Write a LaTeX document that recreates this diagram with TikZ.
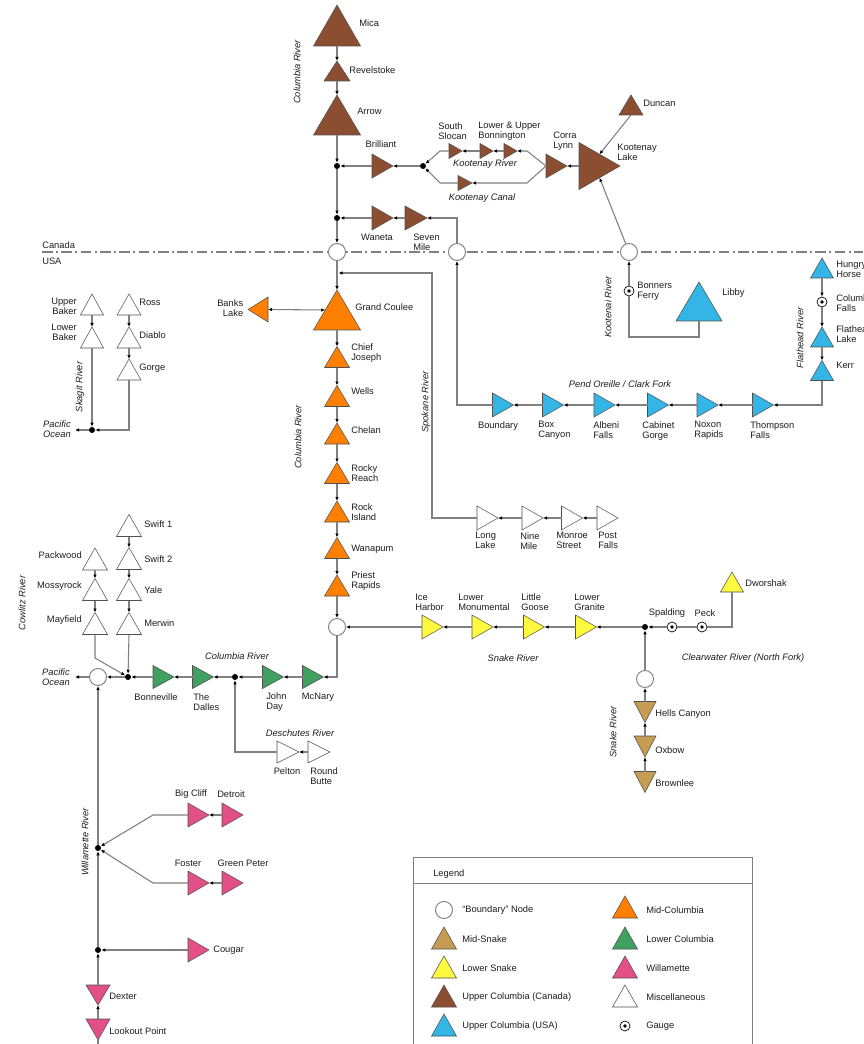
\documentclass[tikz,border=0pt]{standalone}
\usepackage{fontspec}
\setmainfont{Liberation Sans}
\usetikzlibrary{arrows.meta,calc}
\definecolor{cbrown}{RGB}{140,78,48}
\definecolor{cblue}{RGB}{51,181,229}
\definecolor{corange}{RGB}{255,128,0}
\definecolor{cgreen}{RGB}{64,160,96}
\definecolor{cyellow}{RGB}{255,250,64}
\definecolor{ctan}{RGB}{198,155,82}
\definecolor{cpink}{RGB}{226,80,135}
\definecolor{linegray}{RGB}{128,128,128}
\definecolor{edgegray}{RGB}{80,80,80}
\definecolor{txt}{RGB}{30,30,30}
\newcommand\lf{\fontsize{7}{7.6}\selectfont}
\tikzset{
  ln/.style={draw=linegray, line width=0.8pt},
  arr/.style={ln, -{Latex[length=3pt,width=2.6pt,color=black]}},
  darr/.style={ln, {Latex[length=3pt,width=2.6pt,color=black]}-{Latex[length=3pt,width=2.6pt,color=black]}},
  tri/.style={draw=edgegray, line width=0.4pt},
  bnode/.style={circle, draw=linegray, line width=0.7pt, fill=white, minimum size=12.75pt, inner sep=0pt},
  jdot/.style={circle, fill=black, minimum size=4.5pt, inner sep=0pt},
  gauge/.style={circle, draw=black, line width=0.5pt, fill=white, minimum size=7.5pt, inner sep=0pt,
    path picture={\fill[black] (path picture bounding box.center) circle (1.4pt);}},
  lbl/.style={font=\lf, text=txt, inner sep=0pt, align=left},
  rlbl/.style={lbl, align=right},
  clbl/.style={lbl, align=center},
  riv/.style={font=\lf\itshape, text=txt, inner sep=0pt, align=center},
  rivr/.style={riv, align=right},
  border/.style={draw=linegray, line width=0.8pt, dash pattern=on 8pt off 2.5pt on 1.5pt off 2.5pt},
  legbox/.style={draw=linegray, line width=0.7pt},
}
\newcommand\damU[2]{\filldraw[tri, fill=#2] (#1.north) -- (#1.south west) -- (#1.south east) -- cycle;}
\newcommand\damR[2]{\filldraw[tri, fill=#2] (#1.east) -- (#1.north west) -- (#1.south west) -- cycle;}
\newcommand\damD[2]{\filldraw[tri, fill=#2] (#1.south) -- (#1.north west) -- (#1.north east) -- cycle;}
\newcommand\damL[2]{\filldraw[tri, fill=#2] (#1.west) -- (#1.north east) -- (#1.south east) -- cycle;}
\newcommand\dam[7]{%
  \node[inner sep=0pt, outer sep=0pt, minimum width=#4*0.75pt, minimum height=#5*0.75pt] (#1) at (#2,#3) {};
  \csname dam#6\endcsname{#1}{#7}}
\begin{document}
\begin{tikzpicture}[x=0.75pt,y=-0.75pt]
\useasboundingbox (0,0) rectangle (863,1044);
\fill[white] (0,0) rectangle (863,1044);

% ---------- border line ----------
\coordinate (bl0) at (42,252);
\coordinate (bl1) at (863,252);
\draw[border] (bl0) -- (bl1);
\node[lbl, anchor=west] (tcan) at (42,245) {Canada};
\node[lbl, anchor=west] (tusa) at (42,261) {USA};

% ---------- boundary nodes, junctions, gauges ----------
\node[bnode] (bcol) at (337,252) {};
\node[bnode] (bpend) at (457,252) {};
\node[bnode] (bkoot) at (629,252) {};
\node[bnode] (bsnake) at (337,627) {};
\node[bnode] (bsnup) at (645,679) {};
\node[bnode] (bpac) at (98,677) {};
\node[jdot] (j1) at (337,166) {};
\node[jdot] (j2) at (337,218) {};
\node[jdot] (jk) at (423,166) {};
\node[jdot] (jsk) at (92,430) {};
\node[jdot] (jsn) at (645,627) {};
\node[jdot] (jdes) at (235,677) {};
\node[jdot] (jcow) at (128,677) {};
\node[jdot] (jw1) at (98,848) {};
\node[jdot] (jw2) at (98,950) {};
\node[gauge] (bferry) at (629,291) {};
\node[gauge] (cfalls) at (822,302) {};
\node[gauge] (spald) at (672,627) {};
\node[gauge] (peck) at (702,627) {};

% ---------- Upper Columbia (Canada) ----------
\dam{mica}{337}{25.5}{47}{41}{U}{cbrown}
\dam{rev}{337}{71}{26}{20}{U}{cbrown}
\dam{arrow}{337}{115}{47}{40}{U}{cbrown}
\dam{bril}{382.5}{166}{21}{24}{R}{cbrown}
\dam{waneta}{382.5}{218}{21}{24}{R}{cbrown}
\dam{seven}{416}{218}{22}{24}{R}{cbrown}
\dam{sslocan}{455.5}{151}{13}{15}{R}{cbrown}
\dam{lbon}{486.5}{151}{13}{15}{R}{cbrown}
\dam{ubon}{510.5}{151}{13}{15}{R}{cbrown}
\dam{kcanal}{465}{183}{14}{15}{R}{cbrown}
\dam{corra}{556.5}{166}{21}{24}{R}{cbrown}
\dam{klake}{599.5}{166}{41}{47}{R}{cbrown}
\dam{duncan}{631}{105}{24}{20}{U}{cbrown}

\node[lbl, anchor=west] (tmica) at (359,23) {Mica};
\node[lbl, anchor=west] (trev) at (349,70) {Revelstoke};
\node[lbl, anchor=west] (tarrow) at (357,111) {Arrow};
\node[clbl] (tbril) at (381,144) {Brilliant};
\node[clbl] (twaneta) at (377,237) {Waneta};
\node[lbl, anchor=west] (tseven) at (413,242) {Seven\\Mile};
\node[lbl, anchor=west] (tsslocan) at (438,131) {South\\Slocan};
\node[lbl, anchor=west] (tbon) at (478,131.5) {Lower \& Upper\\Bonnington};
\node[lbl, anchor=west] (tcorra) at (553,141) {Corra\\Lynn};
\node[lbl, anchor=west] (tklake) at (617,152.5) {Kootenay\\Lake};
\node[lbl, anchor=west] (tduncan) at (643,103) {Duncan};
\node[riv] (rkr) at (485,164) {Kootenay River};
\node[riv] (rkc) at (482,198) {Kootenay Canal};
\node[riv, rotate=90] (rcol1) at (297,72) {Columbia River};

\coordinate (kr0) at (440,151);
\coordinate (kr1) at (527,151);
\coordinate (kc0) at (440,183);
\coordinate (kc1) at (527,183);
\coordinate (klup) at ($(klake.north west)!0.5!(klake.east)$);
\coordinate (kldn) at ($(klake.south west)!0.5!(klake.east)$);

\draw[arr] (mica.south) -- (rev.north);
\draw[arr] (rev.south) -- (arrow.north);
\draw[arr] (arrow.south) -- (j1);
\draw[arr] (j1) -- (j2);
\draw[arr] (j2) -- (bcol);
\draw[arr] (bril.west) -- (j1);
\draw[arr] (jk) -- (bril.east);
\draw[arr] (corra.west) -- (kr1) -- (ubon.east);
\draw[arr] (ubon.west) -- (lbon.east);
\draw[arr] (lbon.west) -- (sslocan.east);
\draw[arr] (sslocan.west) -- (kr0) -- (jk);
\draw[arr] (corra.west) -- (kc1) -- (kcanal.east);
\draw[arr] (kcanal.west) -- (kc0) -- (jk);
\draw[arr] (klake.west) -- (corra.east);
\draw[arr] (duncan.south) -- (klup);
\draw[arr] (bkoot) -- (kldn);
\draw[arr] (seven.west) -- (waneta.east);
\draw[arr] (waneta.west) -- (j2);
\draw[arr] (bpend.north) |- (seven.east);

% ---------- Upper Columbia (USA) ----------
\dam{libby}{699}{301.5}{46}{39}{U}{cblue}
\dam{hhorse}{822}{268}{23}{20}{U}{cblue}
\dam{flake}{822}{337}{23}{20}{U}{cblue}
\dam{kerr}{822}{370.5}{23}{20}{U}{cblue}
\dam{thompson}{763}{405}{21}{24}{R}{cblue}
\dam{noxon}{707.5}{405}{21}{24}{R}{cblue}
\dam{cabinet}{658}{405}{21}{24}{R}{cblue}
\dam{albeni}{604.5}{405}{21}{24}{R}{cblue}
\dam{boxc}{553}{405}{21}{24}{R}{cblue}
\dam{bdy}{503}{405}{21}{24}{R}{cblue}

\node[lbl, anchor=west] (tbferry) at (637,291) {Bonners\\Ferry};
\node[lbl, anchor=west] (tlibby) at (722,293) {Libby};
\node[lbl, anchor=west] (thh) at (836,269.5) {Hungry\\Horse};
\node[lbl, anchor=west] (tcf) at (836,303) {Columbia\\Falls};
\node[lbl, anchor=west] (tfl) at (836,334) {Flathead\\Lake};
\node[lbl, anchor=west] (tkerr) at (836,365) {Kerr};
\node[riv, rotate=90] (rkoot) at (608,307) {Kootenai River};
\node[riv, rotate=90] (rflat) at (800,338) {Flathead River};
\node[riv] (rpend) at (620,384) {Pend Oreille / Clark Fork};
\node[lbl, anchor=north] (tbdy) at (498,421) {Boundary};
\node[lbl, anchor=north west] (tboxc) at (538,421) {Box\\Canyon};
\node[lbl, anchor=north west] (talbeni) at (593,421) {Albeni\\Falls};
\node[lbl, anchor=north west] (tcabinet) at (642,421) {Cabinet\\Gorge};
\node[lbl, anchor=north west] (tnoxon) at (694,421) {Noxon\\Rapids};
\node[lbl, anchor=north west] (tthompson) at (750,421) {Thompson\\Falls};

\coordinate (kt1) at (629,337);
\draw[arr] (bferry) -- (bkoot);
\draw[ln] (libby.south) |- (kt1) -- (bferry.south);
\draw[arr] (hhorse.south) -- (cfalls);
\draw[arr] (cfalls) -- (flake.north);
\draw[arr] (flake.south) -- (kerr.north);
\draw[arr] (kerr.south) |- (thompson.east);
\draw[arr] (thompson.west) -- (noxon.east);
\draw[arr] (noxon.west) -- (cabinet.east);
\draw[arr] (cabinet.west) -- (albeni.east);
\draw[arr] (albeni.west) -- (boxc.east);
\draw[arr] (boxc.west) -- (bdy.east);
\draw[arr] (bdy.west) -| (bpend.south);

% ---------- Mid-Columbia ----------
\dam{gc}{337}{310}{47}{40}{U}{corange}
\dam{banks}{258}{309.5}{20}{25}{L}{corange}
\dam{cj}{337}{357}{25}{21}{U}{corange}
\dam{wells}{337}{396}{25}{21}{U}{corange}
\dam{chelan}{337}{433.5}{25}{21}{U}{corange}
\dam{rocky}{337}{473}{25}{21}{U}{corange}
\dam{rockis}{337}{511.5}{25}{21}{U}{corange}
\dam{wanapum}{337}{548}{25}{21}{U}{corange}
\dam{priest}{337}{585.5}{25}{21}{U}{corange}

\node[lbl, anchor=west] (tgc) at (355,307) {Grand Coulee};
\node[rlbl, anchor=west] (tbanks) at (217,308) {Banks\\Lake};
\node[lbl, anchor=west] (tcj) at (351,353) {Chief\\Joseph};
\node[lbl, anchor=west] (twells) at (351,391) {Wells};
\node[lbl, anchor=west] (tchelan) at (351,430) {Chelan};
\node[lbl, anchor=west] (trocky) at (351,473) {Rocky\\Reach};
\node[lbl, anchor=west] (trockis) at (351,512) {Rock\\Island};
\node[lbl, anchor=west] (twanapum) at (351,549) {Wanapum};
\node[lbl, anchor=west] (tpriest) at (351,581.5) {Priest\\Rapids};
\node[riv, rotate=90] (rcol2) at (298,437) {Columbia River};

\coordinate (gcl) at ($(gc.north)!0.5!(gc.south west)$);
\draw[arr] (bcol) -- (gc.north);
\draw[darr] (banks.east) -- (gcl);
\draw[arr] (gc.south) -- (cj.north);
\draw[arr] (cj.south) -- (wells.north);
\draw[arr] (wells.south) -- (chelan.north);
\draw[arr] (chelan.south) -- (rocky.north);
\draw[arr] (rocky.south) -- (rockis.north);
\draw[arr] (rockis.south) -- (wanapum.north);
\draw[arr] (wanapum.south) -- (priest.north);
\draw[arr] (priest.south) -- (bsnake);

% ---------- Spokane ----------
\dam{longlake}{487.5}{518}{21}{24}{R}{white}
\dam{ninemile}{532.5}{518}{21}{24}{R}{white}
\dam{monroe}{572}{518}{21}{24}{R}{white}
\dam{postf}{607.5}{518}{21}{24}{R}{white}
\node[lbl, anchor=north west] (tlong) at (475,532) {Long\\Lake};
\node[lbl, anchor=north west] (tnine) at (520,532) {Nine\\Mile};
\node[lbl, anchor=north west] (tmonroe) at (556,532) {Monroe\\Street};
\node[lbl, anchor=north west] (tpost) at (598,532) {Post\\Falls};
\node[riv, rotate=90] (rspok) at (426,402) {Spokane River};
\coordinate (sp1) at (432,273);
\coordinate (sp2) at (338.5,273);
\draw[arr] (longlake.west) -| (sp1) -- (sp2);
\draw[arr] (ninemile.west) -- (longlake.east);
\draw[arr] (monroe.west) -- (ninemile.east);
\draw[arr] (postf.west) -- (monroe.east);

% ---------- Skagit ----------
\dam{ubaker}{92}{304.5}{23}{21}{U}{white}
\dam{lbaker}{92}{337.5}{23}{21}{U}{white}
\dam{ross}{129}{304.5}{24}{21}{U}{white}
\dam{diablo}{129}{337.5}{24}{21}{U}{white}
\dam{gorge}{129}{369.5}{24}{21}{U}{white}
\node[rlbl, anchor=east] (tubaker) at (77,306.5) {Upper\\Baker};
\node[rlbl, anchor=east] (tlbaker) at (77,332) {Lower\\Baker};
\node[lbl, anchor=west] (tross) at (139,302) {Ross};
\node[lbl, anchor=west] (tdiablo) at (139,335) {Diablo};
\node[lbl, anchor=west] (tgorge) at (139,368) {Gorge};
\node[riv, rotate=90] (rskag) at (80,387) {Skagit River};
\node[rivr, anchor=east] (tpo1) at (71,429.5) {Pacific\\Ocean};
\coordinate (po1) at (75,430);
\draw[arr] (ubaker.south) -- (lbaker.north);
\draw[arr] (lbaker.south) -- (jsk);
\draw[arr] (ross.south) -- (diablo.north);
\draw[arr] (diablo.south) -- (gorge.north);
\draw[arr] (gorge.south) |- (jsk.east);
\draw[arr] (jsk) -- (po1);

% ---------- Lower Snake / Mid-Snake ----------
\dam{iceh}{432.5}{627}{21}{24}{R}{cyellow}
\dam{lmon}{482.5}{627}{21}{24}{R}{cyellow}
\dam{lgoose}{534}{627}{21}{24}{R}{cyellow}
\dam{lgran}{586}{627}{21}{24}{R}{cyellow}
\dam{dwor}{732}{582}{23}{20}{U}{cyellow}
\dam{hells}{645}{712}{22}{21}{D}{ctan}
\dam{oxbow}{645}{746.5}{22}{21}{D}{ctan}
\dam{brownlee}{645}{782}{22}{21}{D}{ctan}

\node[lbl, anchor=west] (tice) at (415,602) {Ice\\Harbor};
\node[lbl, anchor=west] (tlmon) at (458,602) {Lower\\Monumental};
\node[lbl, anchor=west] (tlgoose) at (521,602) {Little\\Goose};
\node[lbl, anchor=west] (tlgran) at (574,602) {Lower\\Granite};
\node[clbl] (tspald) at (667,613) {Spalding};
\node[clbl] (tpeck) at (705,613) {Peck};
\node[lbl, anchor=west] (tdwor) at (745,583) {Dworshak};
\node[riv] (rsnake) at (513,658) {Snake River};
\node[riv] (rclear) at (743,658) {Clearwater River (North Fork)};
\node[riv, rotate=90] (rsnake2) at (613,732) {Snake River};
\node[lbl, anchor=west] (thells) at (655,714) {Hells Canyon};
\node[lbl, anchor=west] (toxbow) at (655,750) {Oxbow};
\node[lbl, anchor=west] (tbrown) at (655,783) {Brownlee};

\draw[arr] (iceh.west) -- (bsnake);
\draw[arr] (lmon.west) -- (iceh.east);
\draw[arr] (lgoose.west) -- (lmon.east);
\draw[arr] (lgran.west) -- (lgoose.east);
\draw[arr] (jsn) -- (lgran.east);
\draw[arr] (spald) -- (jsn);
\draw[ln] (peck) -- (spald);
\draw[ln] (dwor.south) |- (peck.east);
\draw[arr] (bsnup) -- (jsn);
\draw[arr] (hells.north) -- (bsnup);
\draw[arr] (oxbow.north) -- (hells.south);
\draw[arr] (brownlee.north) -- (oxbow.south);

% ---------- Lower Columbia ----------
\dam{mcnary}{313}{677}{21}{23}{R}{cgreen}
\dam{johnday}{273}{677}{21}{23}{R}{cgreen}
\dam{dalles}{203}{677}{21}{23}{R}{cgreen}
\dam{bonn}{163.5}{677}{21}{23}{R}{cgreen}
\dam{pelton}{288}{752}{22}{22}{R}{white}
\dam{rbutte}{319}{752}{22}{22}{R}{white}

\node[riv] (rcol3) at (237,656) {Columbia River};
\node[clbl] (tbonn) at (156,697) {Bonneville};
\node[lbl, anchor=west] (tdalles) at (193,702) {The\\Dalles};
\node[lbl, anchor=west] (tjohn) at (266,702) {John\\Day};
\node[clbl] (tmcnary) at (318,697) {McNary};
\node[rivr, anchor=east] (tpo2) at (70,677) {Pacific\\Ocean};
\node[riv] (rdes) at (300,733) {Deschutes River};
\node[clbl] (tpelton) at (287,771) {Pelton};
\node[lbl, anchor=west] (trbutte) at (310,776) {Round\\Butte};
\coordinate (po2) at (75,677);

\draw[arr] (bsnake.south) |- (mcnary.east);
\draw[arr] (mcnary.west) -- (johnday.east);
\draw[arr] (johnday.west) -- (jdes);
\draw[arr] (jdes) -- (dalles.east);
\draw[arr] (dalles.west) -- (bonn.east);
\draw[arr] (bonn.west) -- (jcow);
\draw[arr] (jcow) -- (bpac);
\draw[arr] (bpac) -- (po2);
\draw[arr] (rbutte.west) -- (pelton.east);
\draw[arr] (pelton.west) -| (jdes.south);

% ---------- Cowlitz / Lewis ----------
\dam{packwood}{95}{559}{25}{22}{U}{white}
\dam{mossy}{95}{589.5}{25}{22}{U}{white}
\dam{mayfield}{95}{623.5}{25}{22}{U}{white}
\dam{swift1}{129}{525.5}{25}{22}{U}{white}
\dam{swift2}{129}{558.5}{25}{22}{U}{white}
\dam{yale}{129}{589.5}{25}{22}{U}{white}
\dam{merwin}{129}{623.5}{25}{22}{U}{white}
\node[lbl, anchor=east] (tpack) at (82,555) {Packwood};
\node[lbl, anchor=east] (tmossy) at (82,586) {Mossyrock};
\node[lbl, anchor=east] (tmay) at (82,620) {Mayfield};
\node[lbl, anchor=west] (tsw1) at (144,524) {Swift 1};
\node[lbl, anchor=west] (tsw2) at (144,559) {Swift 2};
\node[lbl, anchor=west] (tyale) at (144,590) {Yale};
\node[lbl, anchor=west] (tmerwin) at (144,623) {Merwin};
\node[riv, rotate=90] (rcow) at (22,603) {Cowlitz River};
\coordinate (cw1) at (95,658);
\draw[arr] (packwood.south) -- (mossy.north);
\draw[arr] (mossy.south) -- (mayfield.north);
\draw[arr] (mayfield.south) -- (cw1) -- (jcow);
\draw[arr] (swift1.south) -- (swift2.north);
\draw[arr] (swift2.south) -- (yale.north);
\draw[arr] (yale.south) -- (merwin.north);
\draw[arr] (merwin.south) -- (jcow);

% ---------- Willamette ----------
\dam{bigcliff}{198.5}{815}{21}{24}{R}{cpink}
\dam{detroit}{232.5}{815}{21}{24}{R}{cpink}
\dam{foster}{198.5}{883}{21}{24}{R}{cpink}
\dam{gpeter}{232.5}{883}{21}{24}{R}{cpink}
\dam{cougar}{198.5}{950}{21}{24}{R}{cpink}
\dam{dexter}{98}{995}{24}{20}{D}{cpink}
\dam{lookout}{98}{1029.5}{24}{21}{D}{cpink}
\node[clbl] (tbig) at (191,794) {Big Cliff};
\node[clbl] (tdet) at (231,794) {Detroit};
\node[clbl] (tfoster) at (188,863) {Foster};
\node[clbl] (tgp) at (243,863) {Green Peter};
\node[lbl, anchor=west] (tcougar) at (213,950) {Cougar};
\node[lbl, anchor=west] (tdexter) at (109,996) {Dexter};
\node[lbl, anchor=west] (tlook) at (109,1031) {Lookout Point};
\node[riv, rotate=90] (rwil) at (85,842) {Willamette River};
\coordinate (wb1) at (153,815);
\coordinate (wf1) at (153,883);
\coordinate (wend) at (98,1046);
\draw[arr] (jw1) -- (bpac);
\draw[arr] (bigcliff.west) -- (wb1) -- (jw1);
\draw[arr] (detroit.west) -- (bigcliff.east);
\draw[arr] (foster.west) -- (wf1) -- (jw1);
\draw[arr] (gpeter.west) -- (foster.east);
\draw[arr] (jw2) -- (jw1);
\draw[arr] (cougar.west) -- (jw2);
\draw[arr] (dexter.north) -- (jw2);
\draw[arr] (lookout.north) -- (dexter.south);
\draw[ln] (lookout.south) -- (wend);

% ---------- Legend ----------
\coordinate (lg0) at (413,1060);
\coordinate (lg1) at (413,857);
\coordinate (lg2) at (752,857);
\coordinate (lg3) at (752,1060);
\coordinate (lgs0) at (413,883);
\coordinate (lgs1) at (752,883);
\draw[legbox] (lg0) -- (lg1) -- (lg2) -- (lg3);
\draw[legbox] (lgs0) -- (lgs1);
\node[lbl, anchor=west] (tlegend) at (433,874) {Legend};
\node[bnode] (lbnd) at (444,910) {};
\dam{lmsn}{444}{938}{25}{22}{U}{ctan}
\dam{llsn}{444}{967}{25}{22}{U}{cyellow}
\dam{lucc}{444}{996}{25}{22}{U}{cbrown}
\dam{lucu}{444}{1025}{25}{22}{U}{cblue}
\dam{lmc}{625}{907}{25}{22}{U}{corange}
\dam{llc}{625}{938}{25}{22}{U}{cgreen}
\dam{lwil}{625}{967}{25}{22}{U}{cpink}
\dam{lmisc}{625}{996}{25}{22}{U}{white}
\node[gauge] (lgauge) at (625,1026) {};
\node[lbl, anchor=west] (tl1) at (462,910) {``Boundary'' Node};
\node[lbl, anchor=west] (tl2) at (462,939) {Mid-Snake};
\node[lbl, anchor=west] (tl3) at (462,968) {Lower Snake};
\node[lbl, anchor=west] (tl4) at (462,997) {Upper Columbia (Canada)};
\node[lbl, anchor=west] (tl5) at (462,1026) {Upper Columbia (USA)};
\node[lbl, anchor=west] (tl6) at (646,910) {Mid-Columbia};
\node[lbl, anchor=west] (tl7) at (646,939) {Lower Columbia};
\node[lbl, anchor=west] (tl8) at (646,968) {Willamette};
\node[lbl, anchor=west] (tl9) at (646,997) {Miscellaneous};
\node[lbl, anchor=west] (tl10) at (646,1026) {Gauge};
\end{tikzpicture}
\end{document}
